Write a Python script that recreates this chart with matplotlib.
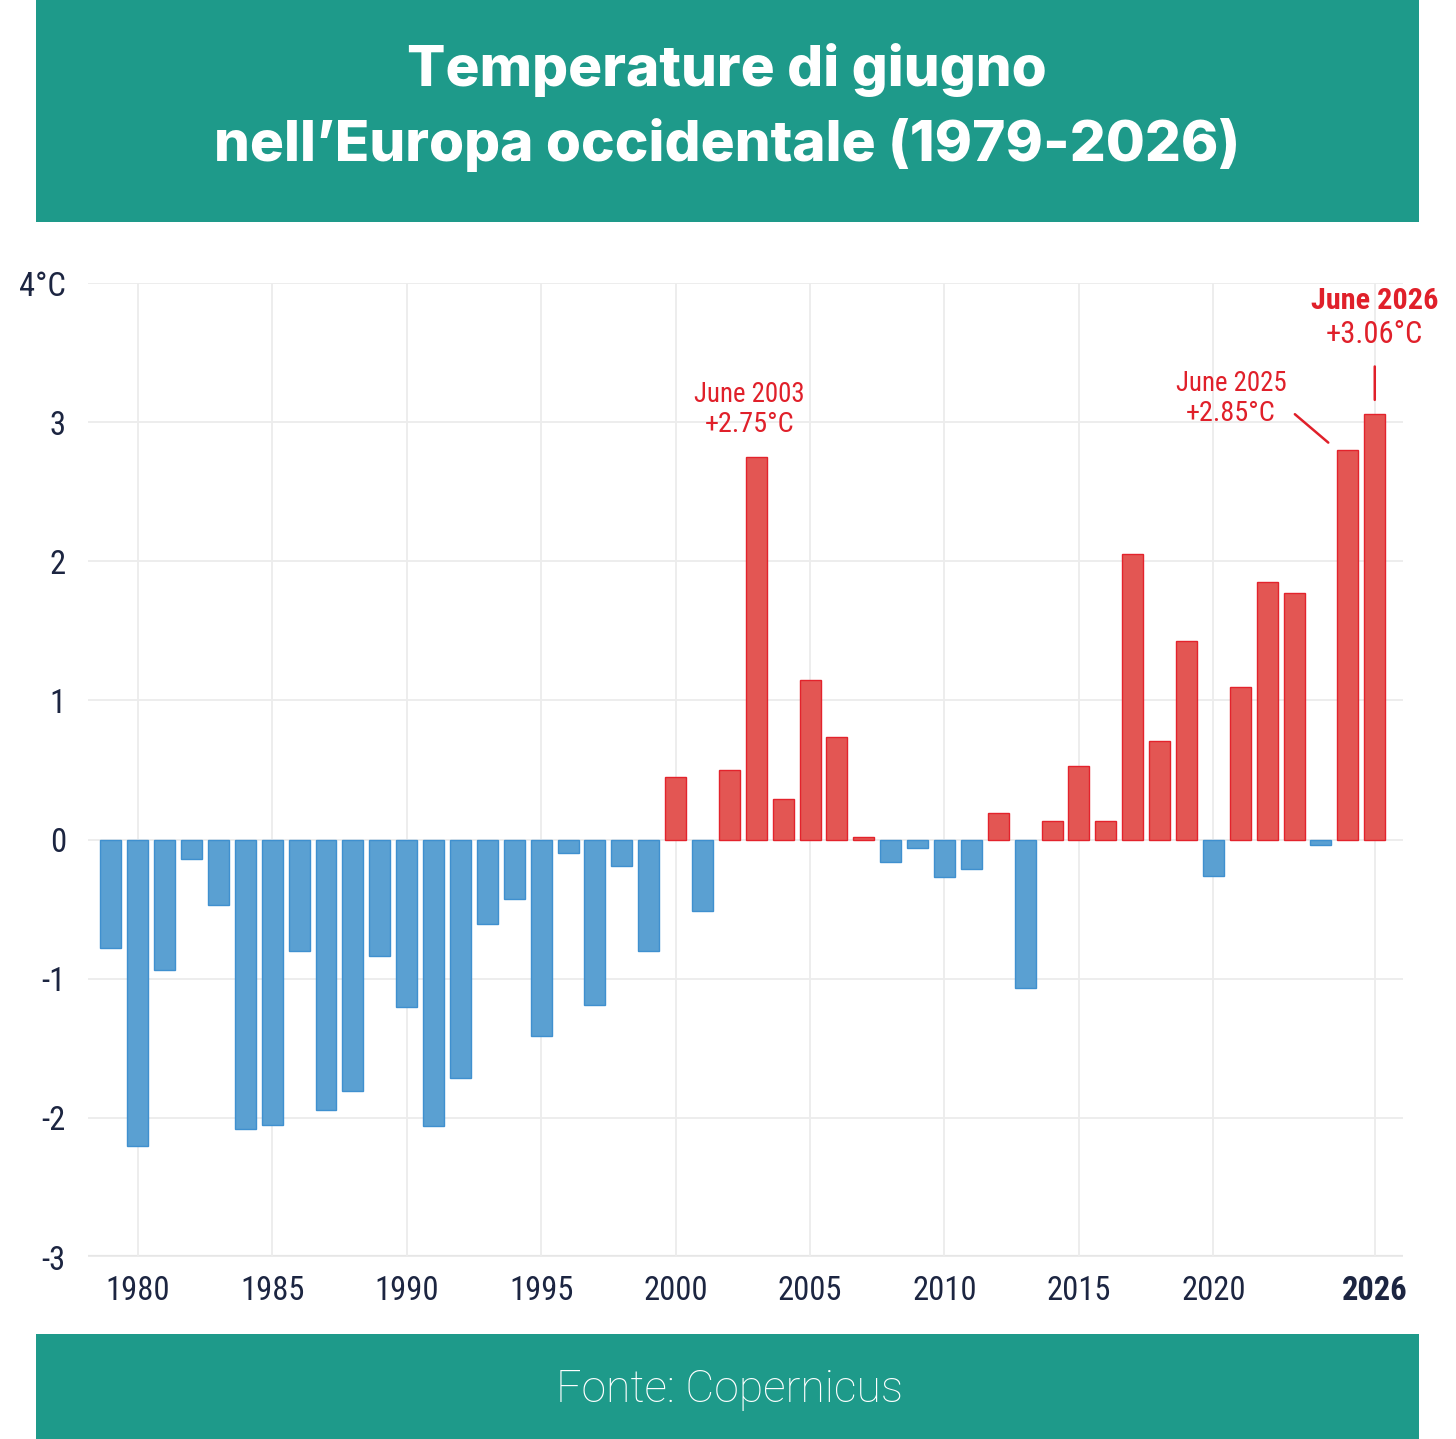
import matplotlib
matplotlib.use("Agg")
import matplotlib.pyplot as plt
from matplotlib import font_manager as fm
from matplotlib.patches import Rectangle

years = list(range(1979, 2027))
anomalies = [-0.78, -2.20, -0.94, -0.14, -0.47, -2.08, -2.05, -0.80, -1.94, -1.81,
             -0.84, -1.20, -2.06, -1.71, -0.61, -0.43, -1.41, -0.10, -1.19, -0.19,
             -0.80, 0.45, -0.51, 0.50, 2.75, 0.29, 1.15, 0.74, 0.02, -0.16,
             -0.06, -0.27, -0.21, 0.19, -1.07, 0.13, 0.53, 0.13, 2.05, 0.71,
             1.43, -0.26, 1.10, 1.85, 1.77, -0.04, 2.80, 3.06]
y_ticks = [-3, -2, -1, 0, 1, 2, 3, 4]
y_tick_labels = ["-3", "-2", "-1", "0", "1", "2", "3", "4°C"]
x_ticks = [1980, 1985, 1990, 1995, 2000, 2005, 2010, 2015, 2020, 2026]
x_tick_labels = ["1980", "1985", "1990", "1995", "2000", "2005", "2010", "2015", "2020", "2026"]
title_lines = ["Temperature di giugno", "nell’Europa occidentale (1979-2026)"]
source = "Fonte: Copernicus"
annot_years = [2003, 2025, 2026]
annot_titles = ["June 2003", "June 2025", "June 2026"]
annot_values = ["+2.75°C", "+2.85°C", "+3.06°C"]

names = {f.name for f in fm.fontManager.ttflist}
condensed = None
for cand in ["Roboto Condensed", "Liberation Sans Narrow", "DejaVu Sans Condensed"]:
    if cand in names:
        condensed = cand
        break
if condensed is None:
    condensed = "Roboto" if "Roboto" in names else "DejaVu Sans"
scale = 1.0 if condensed in ("Roboto Condensed", "Liberation Sans Narrow", "DejaVu Sans Condensed") else 0.85
title_font = "Inter" if "Inter" in names else "DejaVu Sans"
light_font = "Roboto" if "Roboto" in names else "DejaVu Sans"
tick_size = 23.5 * scale

W, H = 1456, 1439
fig = plt.figure(figsize=(W / 100, H / 100), dpi=100)
fig.patch.set_facecolor("white")

teal = "#1e9a8a"
navy = "#1c2541"
red_text = "#e0202a"

fig.patches.append(Rectangle((36 / W, 1 - 222 / H), (1419 - 36) / W, 222 / H,
                             transform=fig.transFigure, facecolor=teal, edgecolor="none"))
fig.patches.append(Rectangle((36 / W, 0), (1419 - 36) / W, (1439 - 1334) / H,
                             transform=fig.transFigure, facecolor=teal, edgecolor="none"))

fig.text(727 / W, 1 - 70 / H, title_lines[0], ha="center", va="center",
         color="white", fontsize=40.8, fontweight="heavy", family=title_font)
fig.text(727 / W, 1 - 145 / H, title_lines[1], ha="center", va="center",
         color="white", fontsize=40.8, fontweight="heavy", family=title_font)
fig.text(729 / W, 1 - 1390 / H, source, ha="center", va="center",
         color="white", fontsize=32, fontweight="light", family=light_font)

ax_l, ax_r, ax_t, ax_b = 88, 1403, 283, 1257
ax = fig.add_axes([ax_l / W, 1 - ax_b / H, (ax_r - ax_l) / W, (ax_b - ax_t) / H])
ax.set_xlim(1978.15, 2027.05)
ax.set_ylim(-3, 4)

fill_colors = ["#e35653" if v > 0 else "#5aa0d2" for v in anomalies]
edge_colors = ["#e3232c" if v > 0 else "#3f90cf" for v in anomalies]
ax.bar(years, anomalies, width=0.78, color=fill_colors, edgecolor=edge_colors,
       linewidth=1.0, zorder=3)

ax.set_yticks(y_ticks)
ax.set_yticklabels(y_tick_labels)
ax.set_xticks(x_ticks)
ax.set_xticklabels(x_tick_labels)
for lab in ax.get_xticklabels() + ax.get_yticklabels():
    lab.set_family(condensed)
    lab.set_fontsize(tick_size)
    lab.set_color(navy)
ax.get_xticklabels()[-1].set_fontweight("bold")
ax.tick_params(axis="both", length=0)
ax.tick_params(axis="x", pad=13)
ax.tick_params(axis="y", pad=16)

ax.grid(True, color="#ececec", linewidth=1.3, zorder=0)
for s in ax.spines.values():
    s.set_visible(False)
ax.axhline(-3, color="#e6e6e6", linewidth=3, zorder=1)

tkw = dict(color=red_text, family=condensed, ha="center", va="center")
vals = dict(zip(years, anomalies))
ax.text(annot_years[0] - 0.25, 3.20, annot_titles[0], fontsize=19.4 * scale, **tkw)
ax.text(annot_years[0] - 0.25, 2.98, annot_values[0], fontsize=20.3 * scale, **tkw)
ax.annotate("", xy=(annot_years[1] - 0.65, 2.84), xytext=(annot_years[1] - 2.05, 3.07),
            arrowprops=dict(arrowstyle="-", color=red_text, lw=1.8))
ax.text(annot_years[1] - 4.35, 3.28, annot_titles[1], fontsize=19.4 * scale, **tkw)
ax.text(annot_years[1] - 4.35, 3.06, annot_values[1], fontsize=20.3 * scale, **tkw)
ax.annotate("", xy=(annot_years[2], vals[annot_years[2]] + 0.08), xytext=(annot_years[2], 3.42),
            arrowprops=dict(arrowstyle="-", color=red_text, lw=1.8))
ax.text(annot_years[2], 3.87, annot_titles[2], fontsize=21.8 * scale, fontweight="bold",
        clip_on=False, **tkw)
ax.text(annot_years[2], 3.63, annot_values[2], fontsize=22 * scale, clip_on=False, **tkw)

fig.savefig("out.png", dpi=100, facecolor="white")
